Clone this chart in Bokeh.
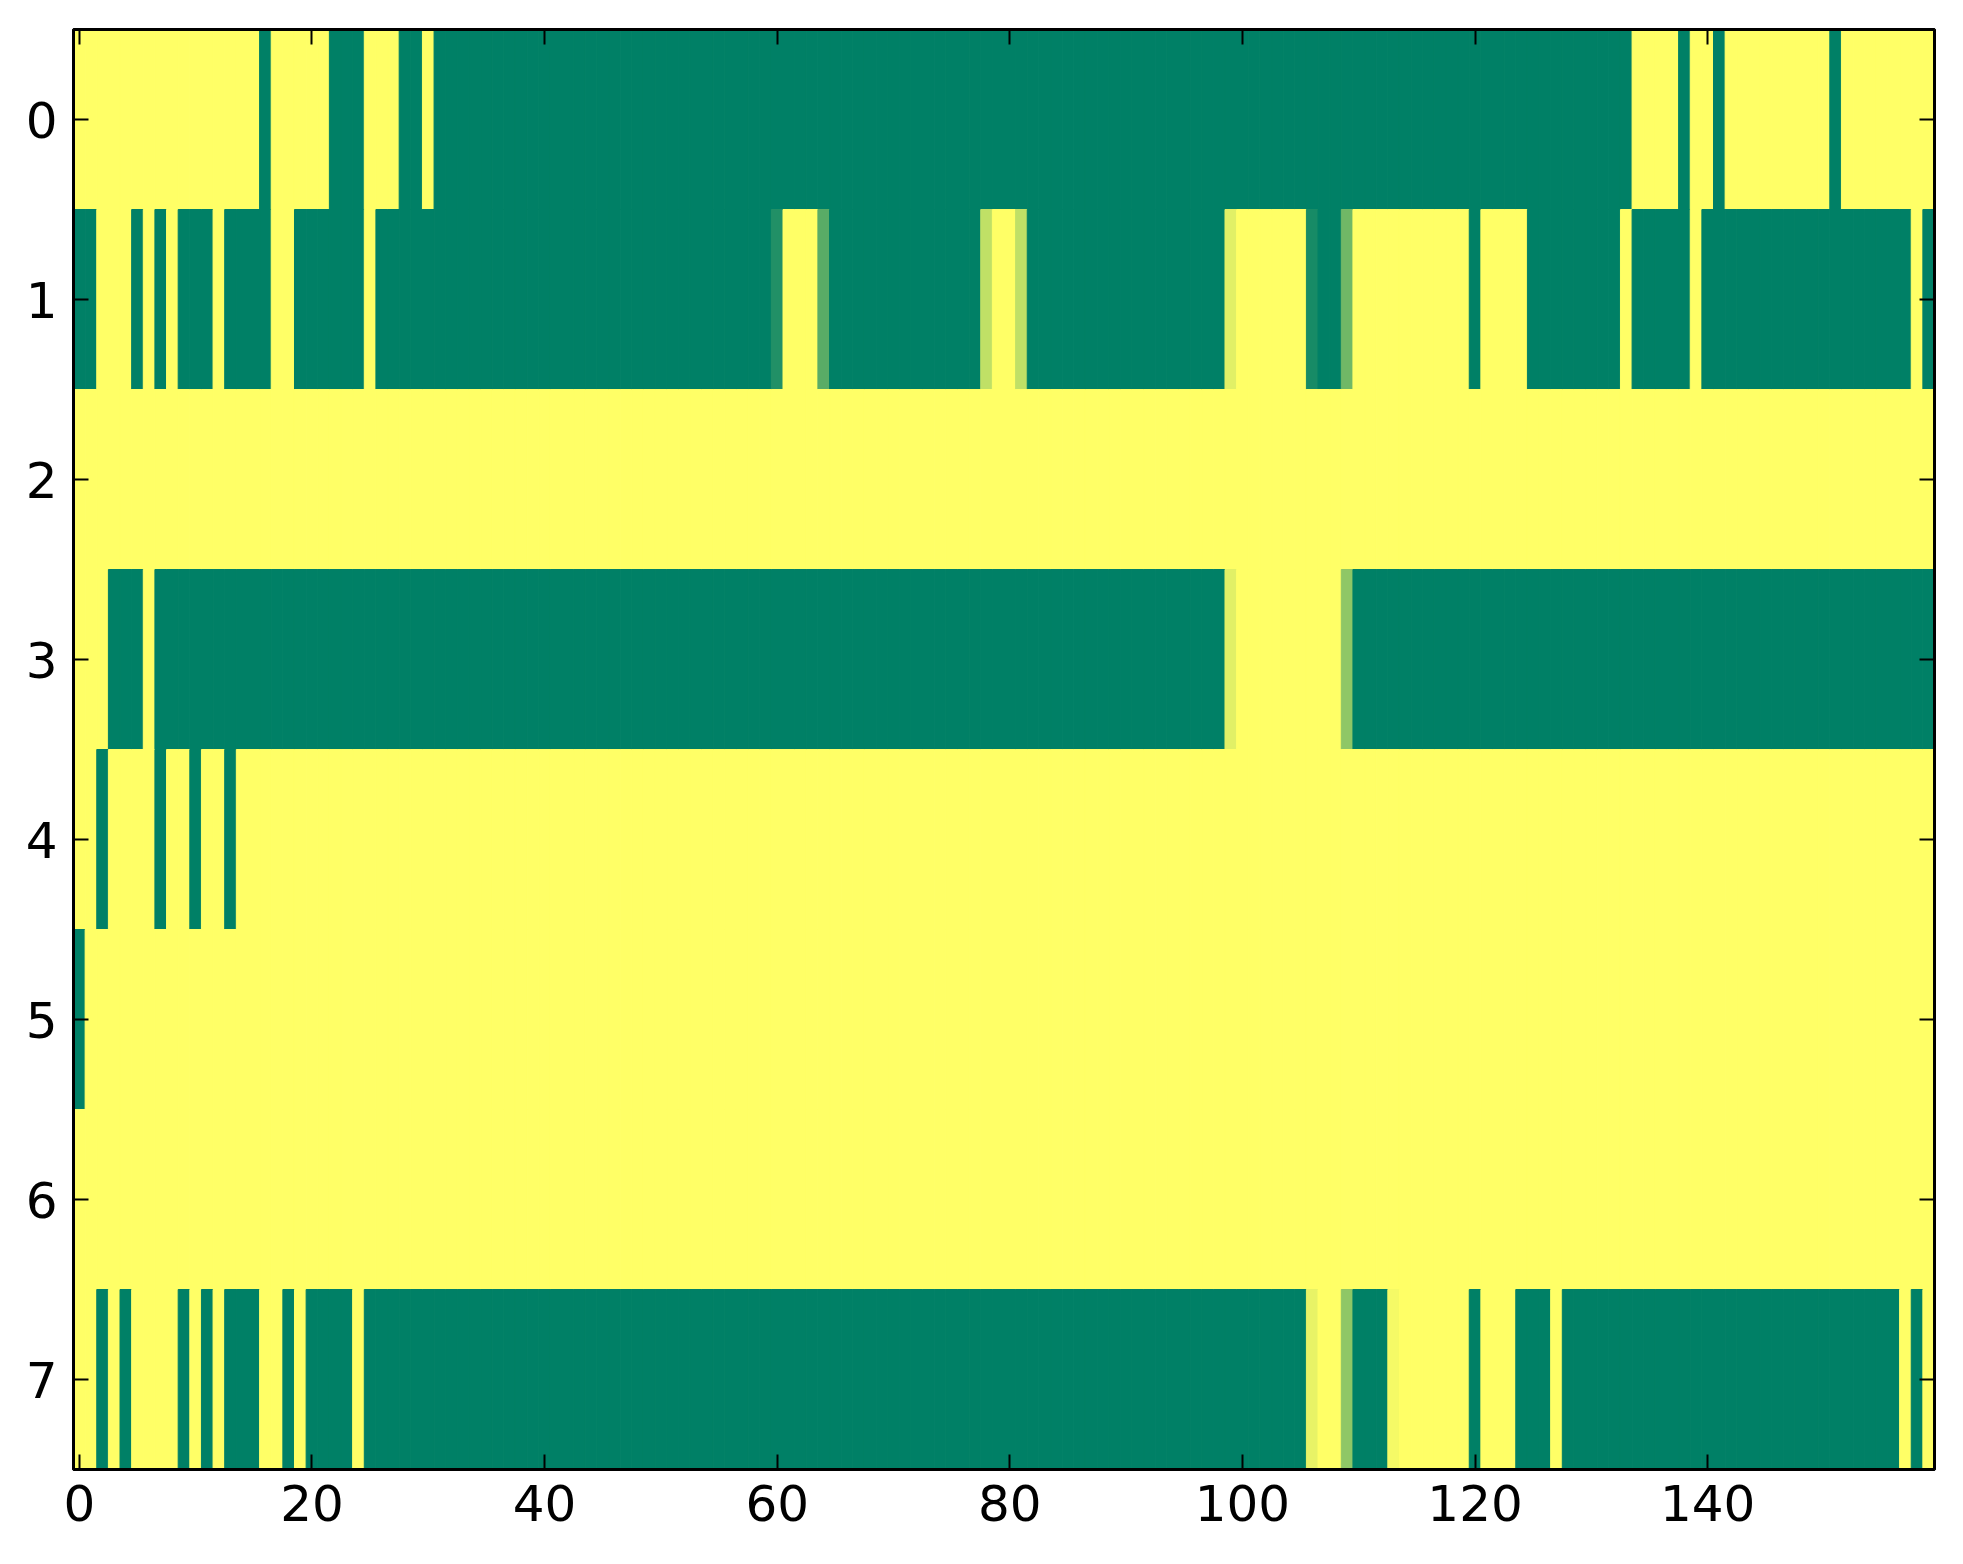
import numpy as np
from bokeh.plotting import figure
from bokeh.models import (Range1d, LinearAxis, FixedTicker, ColumnDataSource,
                          LinearColorMapper, CustomLabelingPolicy)
from bokeh.transform import transform
from bokeh.embed import file_html
from bokeh.resources import INLINE

N_COLS = 160
x_ticks = [0, 20, 40, 60, 80, 100, 120, 140]
y_ticks = [0, 1, 2, 3, 4, 5, 6, 7]

# Each row written as (value, number of consecutive columns)
row_0 = [(1, 16), (0, 1), (1, 5), (0, 3), (1, 3), (0, 2), (1, 1), (0, 103), (1, 4), (0, 1),
         (1, 2), (0, 1), (1, 9), (0, 1), (1, 8)]
row_1 = [(0, 2), (1, 3), (0, 1), (1, 1), (0, 1), (1, 1), (0, 3), (1, 1), (0, 4), (1, 2),
         (0, 6), (1, 1), (0, 34), (0.13, 1), (1, 3), (0.35, 1), (0, 13), (0.75, 1), (1, 2),
         (0.75, 1), (0, 17), (0.88, 1), (1, 6), (0.09, 1), (0, 2), (0.44, 1), (1, 10), (0, 1),
         (1, 4), (0, 8), (1, 1), (0, 5), (1, 1), (0, 18), (1, 1), (0, 1)]
row_2 = [(1, 160)]
row_3 = [(1, 3), (0, 3), (1, 1), (0, 92), (0.88, 1), (1, 9), (0.56, 1), (0, 50)]
row_4 = [(1, 2), (0, 1), (1, 4), (0, 1), (1, 2), (0, 1), (1, 2), (0, 1), (1, 146)]
row_5 = [(0, 1), (1, 159)]
row_6 = [(1, 160)]
row_7 = [(1, 2), (0, 1), (1, 1), (0, 1), (1, 4), (0, 1), (1, 1), (0, 1), (1, 1), (0, 3),
         (1, 2), (0, 1), (1, 1), (0, 4), (1, 1), (0, 81), (0.91, 1), (1, 2), (0.56, 1), (0, 3),
         (0.96, 1), (1, 6), (0, 1), (1, 3), (0, 3), (1, 1), (0, 29), (1, 1), (0, 1), (1, 1)]

rows = [row_0, row_1, row_2, row_3, row_4, row_5, row_6, row_7]


def expand(runs):
    out = []
    for v, n in runs:
        out.extend([v] * n)
    assert len(out) == N_COLS, len(out)
    return out


left, right, top, bottom, vals = [], [], [], [], []
for r, runs in enumerate(rows):
    for c, v in enumerate(expand(runs)):
        left.append(c - 0.5)
        right.append(c + 0.5)
        top.append(r - 0.5)
        bottom.append(r + 0.5)
        vals.append(v)

source = ColumnDataSource(dict(left=left, right=right, top=top, bottom=bottom, v=vals))

# matplotlib "summer" colormap
summer = ["#%02x%02x%02x" % (int(round(255 * t)), int(round(255 * (0.5 + 0.5 * t))), 102)
          for t in np.linspace(0, 1, 256)]
mapper = LinearColorMapper(palette=summer, low=0, high=1)

p = figure(frame_width=1861, frame_height=1440,
           x_range=Range1d(-0.5, 159.5), y_range=Range1d(7.5, -0.5),
           output_backend="svg", toolbar_location=None,
           min_border_left=73, min_border_right=21, min_border_top=29, min_border_bottom=70)

p.quad(left="left", right="right", top="top", bottom="bottom", source=source,
       fill_color=transform("v", mapper), line_color=transform("v", mapper), line_width=1)

p.grid.visible = False
p.outline_line_color = "black"
p.outline_line_width = 3
p.background_fill_color = "white"
p.border_fill_color = "white"

FONT = "DejaVu Sans"
FS = "50px"


def style(ax, labels=True):
    ax.major_tick_in = 15
    ax.major_tick_out = 0
    ax.minor_tick_line_color = None
    ax.major_tick_line_width = 2
    ax.major_tick_line_color = "black"
    ax.axis_line_color = "black"
    ax.axis_line_width = 3
    ax.major_label_text_font = FONT
    ax.major_label_text_color = "black"
    if labels:
        ax.major_label_text_font_size = FS
    else:
        # tick marks only (matplotlib classic style), no labels on top / right
        ax.major_label_text_font_size = "0px"
        ax.major_label_policy = CustomLabelingPolicy(code="return new Set()")
        ax.major_label_standoff = 0


p.xaxis.ticker = FixedTicker(ticks=x_ticks)
p.yaxis.ticker = FixedTicker(ticks=y_ticks)
style(p.xaxis[0])
style(p.yaxis[0])
p.xaxis.major_label_standoff = 15
p.yaxis.major_label_standoff = 16

top_ax = LinearAxis(ticker=FixedTicker(ticks=x_ticks))
style(top_ax, labels=False)
p.add_layout(top_ax, "above")
right_ax = LinearAxis(ticker=FixedTicker(ticks=y_ticks))
style(right_ax, labels=False)
p.add_layout(right_ax, "right")

open("out.html", "w").write(file_html(p, INLINE))
